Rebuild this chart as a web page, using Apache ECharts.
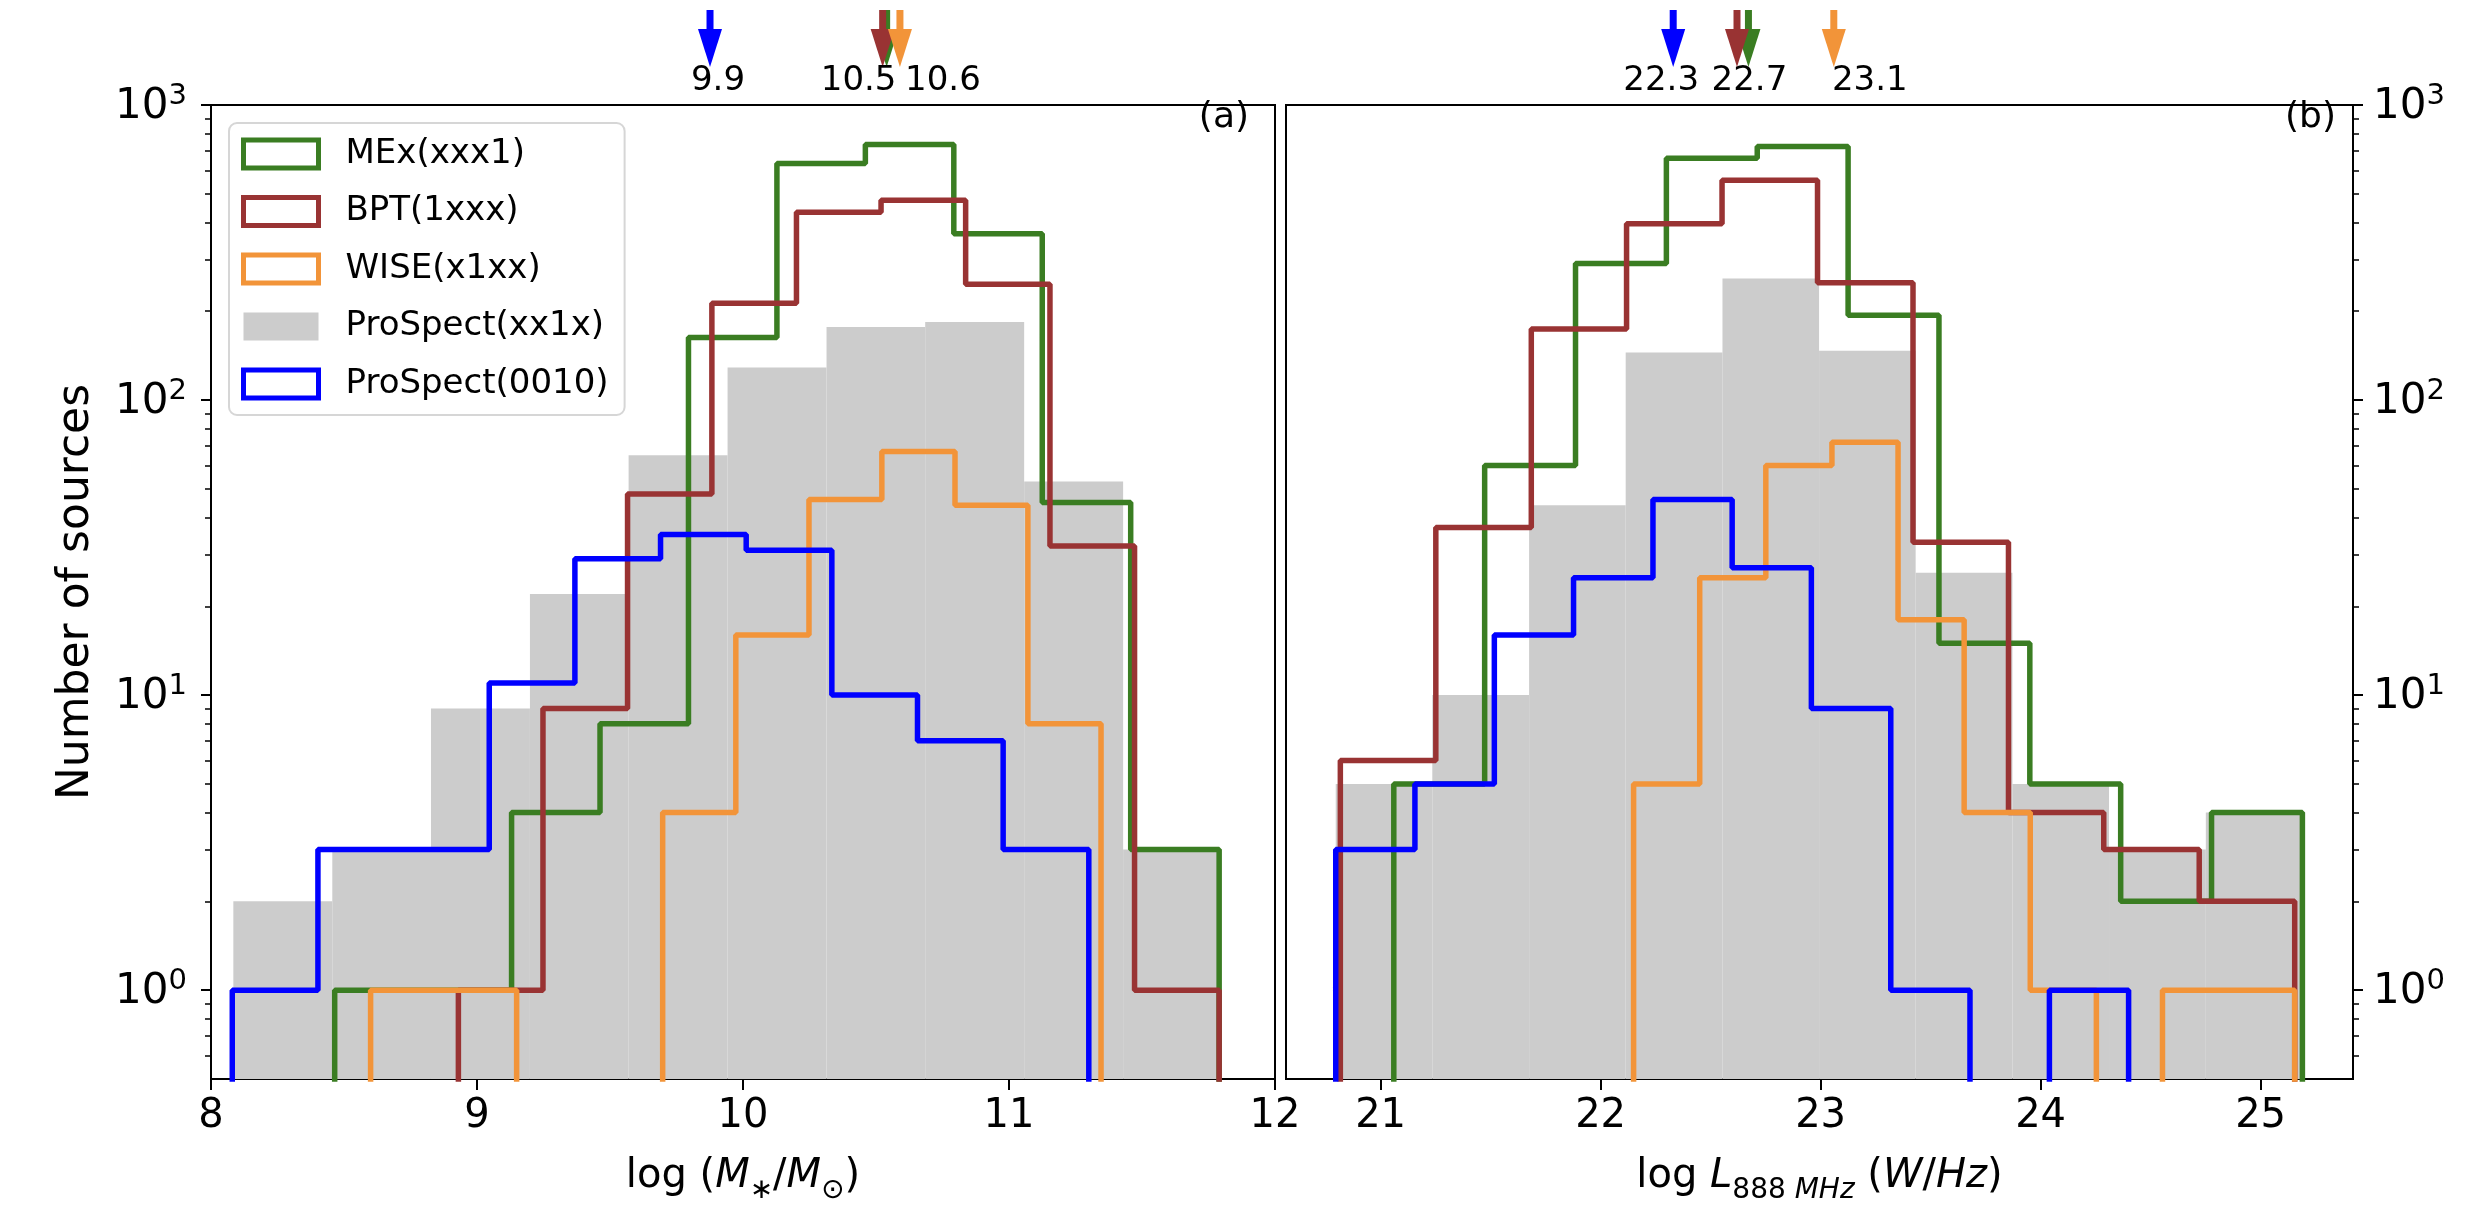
<!DOCTYPE html>
<html>
<head>
<meta charset="utf-8">
<script src="https://cdn.jsdelivr.net/npm/echarts@6/dist/echarts.min.js"></script>
<style>
  html, body { margin: 0; padding: 0; background: #fff; }
  #main { width: 2488px; height: 1210px; }
</style>
</head>
<body>
<div id="main"></div>
<script>
// ---- panel (a): log stellar mass, bin edges + counts per sample ----
const massEdgesMEx = [8.465, 8.7975, 9.13, 9.4625, 9.795, 10.1275, 10.46, 10.7925, 11.125, 11.4575, 11.79];
const massCountsMEx = [1, 1, 4, 8, 163, 634, 735, 366, 45, 3];
const massEdgesBPT = [8.93, 9.248, 9.566, 9.883, 10.201, 10.519, 10.837, 11.154, 11.472, 11.79];
const massCountsBPT = [1, 9, 48, 213, 433, 476, 247, 32, 1];
const massEdgesWISE = [8.6, 8.875, 9.149, 9.424, 9.698, 9.973, 10.248, 10.522, 10.797, 11.071, 11.346];
const massCountsWISE = [1, 1, 0, 0, 4, 16, 46, 67, 44, 8];
const massEdgesPro = [8.084, 8.456, 8.827, 9.199, 9.57, 9.942, 10.314, 10.685, 11.057, 11.429, 11.8];
const massCountsPro = [2, 3, 9, 22, 65, 129, 177, 184, 53, 3];
const massEdgesPro0010 = [8.08, 8.402, 8.724, 9.046, 9.368, 9.69, 10.012, 10.334, 10.656, 10.978, 11.3];
const massCountsPro0010 = [1, 3, 3, 11, 29, 35, 31, 10, 7, 3];

// ---- panel (b): log L888MHz ----
const lumEdgesMEx = [21.06, 21.473, 21.886, 22.299, 22.712, 23.125, 23.538, 23.951, 24.364, 24.777, 25.19];
const lumCountsMEx = [5, 60, 290, 660, 724, 194, 15, 5, 2, 4];
const lumEdgesBPT = [20.817, 21.251, 21.685, 22.118, 22.552, 22.986, 23.42, 23.854, 24.287, 24.721, 25.155];
const lumCountsBPT = [6, 37, 174, 396, 556, 250, 33, 4, 3, 2];
const lumEdgesWISE = [22.15, 22.4505, 22.751, 23.0515, 23.352, 23.6525, 23.953, 24.2535, 24.554, 24.8545, 25.155];
const lumCountsWISE = [5, 25, 60, 72, 18, 4, 1, 0, 1, 1];
const lumEdgesPro = [20.796, 21.235, 21.675, 22.114, 22.554, 22.993, 23.432, 23.872, 24.311, 24.751, 25.19];
const lumCountsPro = [5, 10, 44, 145, 258, 147, 26, 5, 3, 4];
const lumEdgesPro0010 = [20.796, 21.156, 21.517, 21.877, 22.238, 22.598, 22.958, 23.319, 23.679, 24.04, 24.4];
const lumCountsPro0010 = [3, 5, 16, 25, 46, 27, 9, 1, 0, 1];

// mean markers (arrows above the panels), order: MEx, BPT, WISE, ProSpect(0010)
const arrowNames = ['MEx(xxx1)', 'BPT(1xxx)', 'WISE(x1xx)', 'ProSpect(0010)'];
const massMeans = [10.54, 10.525, 10.59, 9.876];
const massMeanLabels = ['', '10.5', '10.6', '9.9'];
const lumMeans = [22.672, 22.62, 23.06, 22.33];
const lumMeanLabels = ['22.7', '', '23.1', '22.3'];

const yTickValues = [1, 10, 100, 1000];
const yMinorValues = [0.6, 0.7, 0.8, 0.9, 2, 3, 4, 5, 6, 7, 8, 9, 20, 30, 40, 50, 60, 70, 80, 90, 200, 300, 400, 500, 600, 700, 800, 900];
const lumTicks = [21, 22, 23, 24, 25];

const FONT = "'DejaVu Sans', sans-serif";
const colors = {
  'MEx(xxx1)': '#3a7d22',
  'BPT(1xxx)': '#993333',
  'WISE(x1xx)': '#f29439',
  'ProSpect(xx1x)': '#cccccc',
  'ProSpect(0010)': '#0000ff'
};
const FLOOR = 0.05; // empty bins fall below the axis and get clipped

function stepPoints(edges, counts) {
  const pts = [[edges[0], FLOOR]];
  counts.forEach((c, i) => pts.push([edges[i], c > 0 ? c : FLOOR]));
  const last = counts[counts.length - 1];
  pts.push([edges[edges.length - 1], last > 0 ? last : FLOOR]);
  pts.push([edges[edges.length - 1], FLOOR]);
  return pts;
}

function stepSeries(name, edges, counts, axis, z) {
  return {
    name: name, type: 'line', step: 'end',
    xAxisIndex: axis, yAxisIndex: axis * 2,
    data: stepPoints(edges, counts),
    symbol: 'none', clip: true, z: z,
    lineStyle: { color: colors[name], width: 5.5 },
    itemStyle: { color: colors[name] },
    emphasis: { disabled: true }
  };
}

function barsSeries(name, edges, counts, axis) {
  return {
    name: name, type: 'custom',
    xAxisIndex: axis, yAxisIndex: axis * 2,
    data: counts.map((c, i) => [edges[i], edges[i + 1], c]),
    encode: { x: [0, 1], y: 2 },
    itemStyle: { color: colors[name] },
    z: 1, clip: true,
    renderItem: function (params, api) {
      const p0 = api.coord([api.value(0), api.value(2)]);
      const p1 = api.coord([api.value(1), 0.5]);
      return {
        type: 'rect',
        shape: { x: p0[0], y: p0[1], width: p1[0] - p0[0], height: p1[1] - p0[1] },
        style: { fill: colors[name] }
      };
    }
  };
}

// pixel nudges for the mean labels so they don't collide
const massLabelDx = [0, -24, 43, 8];
const lumLabelDx = [1, 0, 36, -12];

function arrowSeries(means, labels, dx, axis) {
  const order = [3, 0, 1, 2];
  return {
    type: 'custom', xAxisIndex: axis, yAxisIndex: axis * 2,
    data: order.map(i => [means[i], 1000, i]),
    encode: { x: 0, y: 1 },
    clip: false, silent: true, z: 10,
    renderItem: function (params, api) {
      const k = api.value(2);
      const p = api.coord([api.value(0), 1000]);
      const col = colors[arrowNames[k]];
      const kids = [
        { type: 'rect', shape: { x: p[0] - 3.5, y: p[1] - 95, width: 7, height: 21 }, style: { fill: col } },
        { type: 'polygon', shape: { points: [[p[0] - 12, p[1] - 76], [p[0] + 12, p[1] - 76], [p[0], p[1] - 38]] }, style: { fill: col } }
      ];
      if (labels[k]) {
        kids.push({
          type: 'text', x: p[0] + dx[k], y: p[1] - 24,
          style: { text: labels[k], fill: '#000', font: '34px ' + FONT, align: 'center', verticalAlign: 'middle' }
        });
      }
      return { type: 'group', children: kids };
    }
  };
}

function supLabel(v) {
  const e = Math.round(Math.log10(v));
  return '{b|10}{s|' + e + '}';
}
const tickRich = {
  b: { fontSize: 42, fontFamily: FONT, color: '#000', lineHeight: 46, verticalAlign: 'bottom' },
  s: { fontSize: 29, fontFamily: FONT, color: '#000', lineHeight: 46, verticalAlign: 'top' }
};

function majorY(pos) {
  return {
    type: 'log', logBase: 10, min: 0.5, max: 1000, position: pos,
    gridIndex: pos === 'left' ? 0 : 1,
    axisLine: { show: true, lineStyle: { color: '#000', width: 2 } },
    axisTick: { show: true, length: 10, lineStyle: { color: '#000', width: 2 }, customValues: yTickValues },
    axisLabel: { show: true, margin: pos === 'left' ? 24 : 20, formatter: supLabel, rich: tickRich, customValues: yTickValues },
    splitLine: { show: false }
  };
}
function minorY(pos) {
  return {
    type: 'log', logBase: 10, min: 0.5, max: 1000, position: pos,
    gridIndex: pos === 'left' ? 0 : 1,
    axisLine: { show: false },
    axisTick: { show: true, length: 6, lineStyle: { color: '#000', width: 1.5 }, customValues: yMinorValues },
    axisLabel: { show: false },
    splitLine: { show: false }
  };
}

const nameRich = {
  n: { fontSize: 40, fontFamily: FONT, color: '#000', lineHeight: 56, verticalAlign: 'middle' },
  i: { fontSize: 40, fontFamily: FONT, fontStyle: 'italic', color: '#000', lineHeight: 56, verticalAlign: 'middle' },
  s: { fontSize: 28, fontFamily: FONT, color: '#000', lineHeight: 56, verticalAlign: 'bottom' },
  si: { fontSize: 28, fontFamily: FONT, fontStyle: 'italic', color: '#000', lineHeight: 56, verticalAlign: 'bottom' }
};

const chart = echarts.init(document.getElementById('main'));
const option = {
  animation: false,
  backgroundColor: '#fff',
  textStyle: { fontFamily: FONT },
  grid: [
    { left: 211, top: 105, width: 1064, height: 981, show: true, borderColor: '#000', borderWidth: 2, backgroundColor: 'transparent' },
    { left: 1286, top: 105, width: 1067, height: 981, show: true, borderColor: '#000', borderWidth: 2, backgroundColor: 'transparent' }
  ],
  title: [
    { text: '(a)', right: 2488 - 1249, top: 100, padding: 0, textStyle: { fontSize: 36, fontWeight: 'normal', fontFamily: FONT, color: '#000' } },
    { text: '(b)', right: 2488 - 2336, top: 100, padding: 0, textStyle: { fontSize: 36, fontWeight: 'normal', fontFamily: FONT, color: '#000' } }
  ],
  legend: {
    orient: 'vertical', left: 229, top: 123,
    padding: [14, 16, 14, 12], itemWidth: 75, itemHeight: 28, itemGap: 23.5,
    backgroundColor: 'rgba(255,255,255,0.8)', borderColor: '#d6d6d6', borderWidth: 2, borderRadius: 8,
    textStyle: { fontSize: 34, fontFamily: FONT, color: '#000', padding: [0, 0, 0, 22] },
    selectedMode: false,
    data: [
      { name: 'MEx(xxx1)', icon: 'rect', itemStyle: { color: '#fff', borderColor: colors['MEx(xxx1)'], borderWidth: 5 }, lineStyle: { width: 0 } },
      { name: 'BPT(1xxx)', icon: 'rect', itemStyle: { color: '#fff', borderColor: colors['BPT(1xxx)'], borderWidth: 5 }, lineStyle: { width: 0 } },
      { name: 'WISE(x1xx)', icon: 'rect', itemStyle: { color: '#fff', borderColor: colors['WISE(x1xx)'], borderWidth: 5 }, lineStyle: { width: 0 } },
      { name: 'ProSpect(xx1x)', icon: 'rect', itemStyle: { color: colors['ProSpect(xx1x)'], borderWidth: 0 } },
      { name: 'ProSpect(0010)', icon: 'rect', itemStyle: { color: '#fff', borderColor: colors['ProSpect(0010)'], borderWidth: 5 }, lineStyle: { width: 0 } }
    ]
  },
  xAxis: [
    {
      type: 'value', gridIndex: 0, min: 8, max: 12, interval: 1,
      name: '{n|log (}{i|M}{s|∗}{n|/}{i|M}{s|⊙}{n|)}', nameLocation: 'middle', nameGap: 70,
      nameTextStyle: { rich: nameRich },
      axisLine: { show: true, onZero: false, lineStyle: { color: '#000', width: 2 } },
      axisTick: { show: true, length: 11, lineStyle: { color: '#000', width: 2 } },
      axisLabel: { fontSize: 40, fontFamily: FONT, color: '#000', margin: 18 },
      splitLine: { show: false }
    },
    {
      type: 'value', gridIndex: 1, min: 20.57, max: 25.42,
      name: '{n|log }{i|L}{s|888 }{si|MHz}{n| (}{i|W}{n|/}{i|Hz}{n|)}', nameLocation: 'middle', nameGap: 70,
      nameTextStyle: { rich: nameRich },
      axisLine: { show: true, onZero: false, lineStyle: { color: '#000', width: 2 } },
      axisTick: { show: true, length: 11, lineStyle: { color: '#000', width: 2 }, customValues: lumTicks },
      axisLabel: { fontSize: 40, fontFamily: FONT, color: '#000', margin: 18, customValues: lumTicks },
      splitLine: { show: false }
    }
  ],
  yAxis: [
    Object.assign(majorY('left'), {
      name: 'Number of sources', nameLocation: 'middle', nameGap: 112,
      nameTextStyle: { fontSize: 44, fontFamily: FONT, color: '#000' }
    }),
    minorY('left'),
    majorY('right'),
    minorY('right')
  ],
  series: [
    barsSeries('ProSpect(xx1x)', massEdgesPro, massCountsPro, 0),
    stepSeries('MEx(xxx1)', massEdgesMEx, massCountsMEx, 0, 3),
    stepSeries('BPT(1xxx)', massEdgesBPT, massCountsBPT, 0, 4),
    stepSeries('WISE(x1xx)', massEdgesWISE, massCountsWISE, 0, 5),
    stepSeries('ProSpect(0010)', massEdgesPro0010, massCountsPro0010, 0, 6),
    barsSeries('ProSpect(xx1x)', lumEdgesPro, lumCountsPro, 1),
    stepSeries('MEx(xxx1)', lumEdgesMEx, lumCountsMEx, 1, 3),
    stepSeries('BPT(1xxx)', lumEdgesBPT, lumCountsBPT, 1, 4),
    stepSeries('WISE(x1xx)', lumEdgesWISE, lumCountsWISE, 1, 5),
    stepSeries('ProSpect(0010)', lumEdgesPro0010, lumCountsPro0010, 1, 6),
    arrowSeries(massMeans, massMeanLabels, massLabelDx, 0),
    arrowSeries(lumMeans, lumMeanLabels, lumLabelDx, 1)
  ]
};
chart.setOption(option);
</script>
</body>
</html>
